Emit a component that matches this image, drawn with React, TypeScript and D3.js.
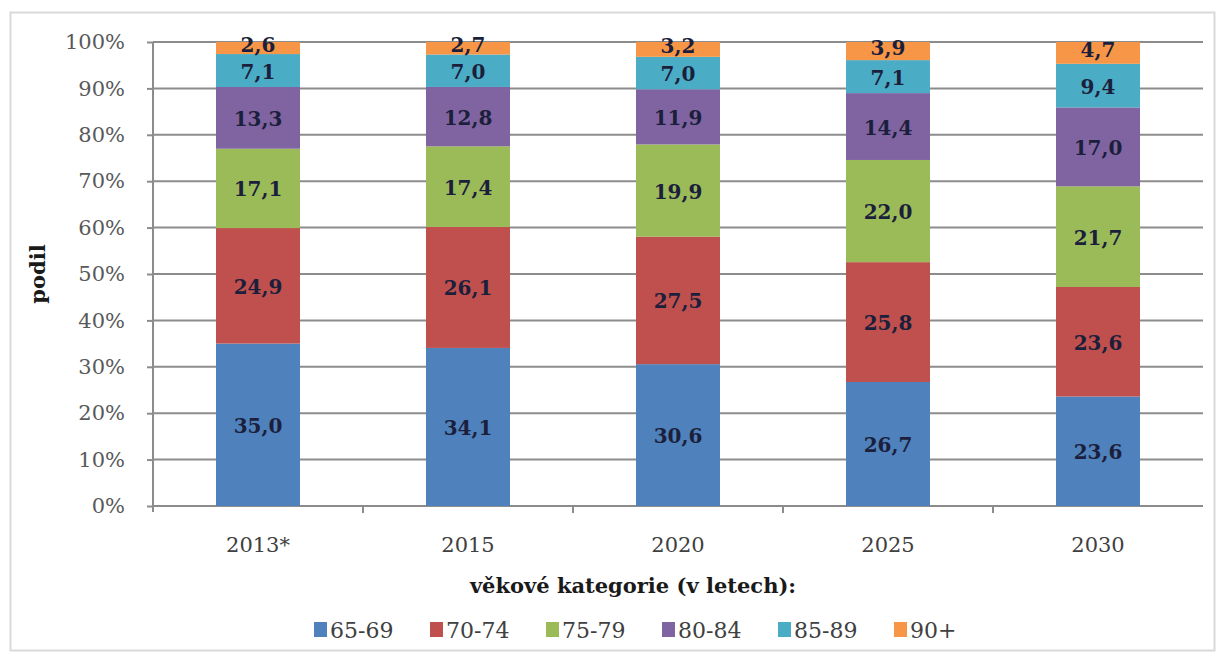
import { axisBottom, axisLeft, format, scaleBand, scaleLinear, select, stack, stackOffsetExpand } from "d3";
import { useEffect, useRef } from "react";

const years = ["2013*", "2015", "2020", "2025", "2030"];
const groups = ["65-69", "70-74", "75-79", "80-84", "85-89", "90+"];
const colors = ["#4F81BD", "#C0504D", "#9BBB59", "#8064A2", "#4BACC6", "#F79646"];

const v6569 = [35.0, 34.1, 30.6, 26.7, 23.6];
const v7074 = [24.9, 26.1, 27.5, 25.8, 23.6];
const v7579 = [17.1, 17.4, 19.9, 22.0, 21.7];
const v8084 = [13.3, 12.8, 11.9, 14.4, 17.0];
const v8589 = [7.1, 7.0, 7.0, 7.1, 9.4];
const v90 = [2.6, 2.7, 3.2, 3.9, 4.7];

const FONT = "'DejaVu Serif', 'Liberation Serif', serif";

export default function App() {
    const ref = useRef<SVGSVGElement>(null);

    useEffect(() => {
        const svg = select(ref.current);
        svg.selectAll("*").remove();

        const series = [v6569, v7074, v7579, v8084, v8589, v90];
        const rows = years.map((y, i) => {
            const r: any = { year: y };
            groups.forEach((g, k) => (r[g] = series[k][i]));
            return r;
        });
        const stacked = stack<any>().keys(groups).offset(stackOffsetExpand)(rows);

        const left = 153, right = 1203, top = 42, bottom = 506;
        const x = scaleBand().domain(years).range([left, right]).paddingInner(0.6).paddingOuter(0.3);
        const y = scaleLinear().domain([0, 1]).range([bottom, top]);

        // frame
        svg.append("rect")
            .attr("x", 10.5).attr("y", 12.5)
            .attr("width", 1204).attr("height", 638)
            .attr("fill", "#fff").attr("stroke", "#d9d9d9").attr("stroke-width", 2);

        // y axis + grid
        const ya = svg.append("g")
            .attr("transform", `translate(${left},0)`)
            .call(axisLeft(y).ticks(10).tickFormat(format(".0%")).tickSize(6).tickPadding(22));
        ya.select(".domain").attr("stroke", "#8c8c8c").attr("stroke-width", 2).attr("d", `M0,${top}V${bottom + 6}`);
        ya.selectAll(".tick line").attr("stroke", "#8c8c8c").attr("stroke-width", 2);
        ya.selectAll(".tick text")
            .attr("font-family", FONT).attr("font-size", 21).attr("fill", "#595959");
        svg.append("g").selectAll("line")
            .data(y.ticks(10))
            .join("line")
            .attr("x1", left).attr("x2", right)
            .attr("y1", d => y(d)).attr("y2", d => y(d))
            .attr("stroke", "#8c8c8c").attr("stroke-width", 2);

        // x axis
        const xa = svg.append("g")
            .attr("transform", `translate(0,${bottom})`)
            .call(axisBottom(x).tickSize(0).tickPadding(31));
        xa.select(".domain").remove();
        xa.selectAll(".tick text")
            .attr("font-family", FONT).attr("font-size", 21).attr("fill", "#404040");
        const step = x.step();
        svg.append("g").selectAll("line")
            .data(years.slice(1))
            .join("line")
            .attr("x1", d => (x(d) as number) + (x.bandwidth() - step) / 2)
            .attr("x2", d => (x(d) as number) + (x.bandwidth() - step) / 2)
            .attr("y1", bottom).attr("y2", bottom + 7)
            .attr("stroke", "#8c8c8c").attr("stroke-width", 2);

        // bars
        const layers = svg.append("g").selectAll("g")
            .data(stacked)
            .join("g")
            .attr("fill", (_d, i) => colors[i]);
        layers.selectAll("rect")
            .data(d => d)
            .join("rect")
            .attr("x", d => x(d.data.year) as number)
            .attr("width", x.bandwidth())
            .attr("y", d => y(d[1]))
            .attr("height", d => y(d[0]) - y(d[1]));

        // value labels
        stacked.forEach((s, k) => {
            svg.append("g").selectAll("text")
                .data(s)
                .join("text")
                .attr("x", d => (x(d.data.year) as number) + x.bandwidth() / 2)
                .attr("y", d => (y(d[0]) + y(d[1])) / 2 + (k === 5 ? 4 : 8))
                .attr("text-anchor", "middle")
                .attr("font-family", FONT).attr("font-size", 20).attr("font-weight", "bold")
                .attr("fill", "#1b1f3b")
                .text((_d, i) => format(".1f")(series[k][i]).replace(".", ","));
        });

        // axis titles
        svg.append("text")
            .attr("transform", `translate(45,${274}) rotate(-90)`)
            .attr("text-anchor", "middle")
            .attr("font-family", FONT).attr("font-size", 21).attr("font-weight", "bold")
            .attr("fill", "#1a1a1a")
            .text("podil");
        svg.append("text")
            .attr("x", 633).attr("y", 593)
            .attr("text-anchor", "middle")
            .attr("font-family", FONT).attr("font-size", 21).attr("font-weight", "bold")
            .attr("fill", "#1a1a1a")
            .text("věkové kategorie (v letech):");

        // legend
        const lg = svg.append("g");
        groups.forEach((g, i) => {
            const lx = 314 + i * 116;
            lg.append("rect")
                .attr("x", lx).attr("y", 622)
                .attr("width", 13).attr("height", 15)
                .attr("fill", colors[i]);
            lg.append("text")
                .attr("x", lx + 16).attr("y", 638)
                .attr("font-family", FONT).attr("font-size", 22)
                .attr("fill", "#404040")
                .text(g);
        });
    }, []);

    return <svg ref={ref} width={1224} height={657} style={{ position: "absolute", left: 0, top: 0 }}></svg>;
}
